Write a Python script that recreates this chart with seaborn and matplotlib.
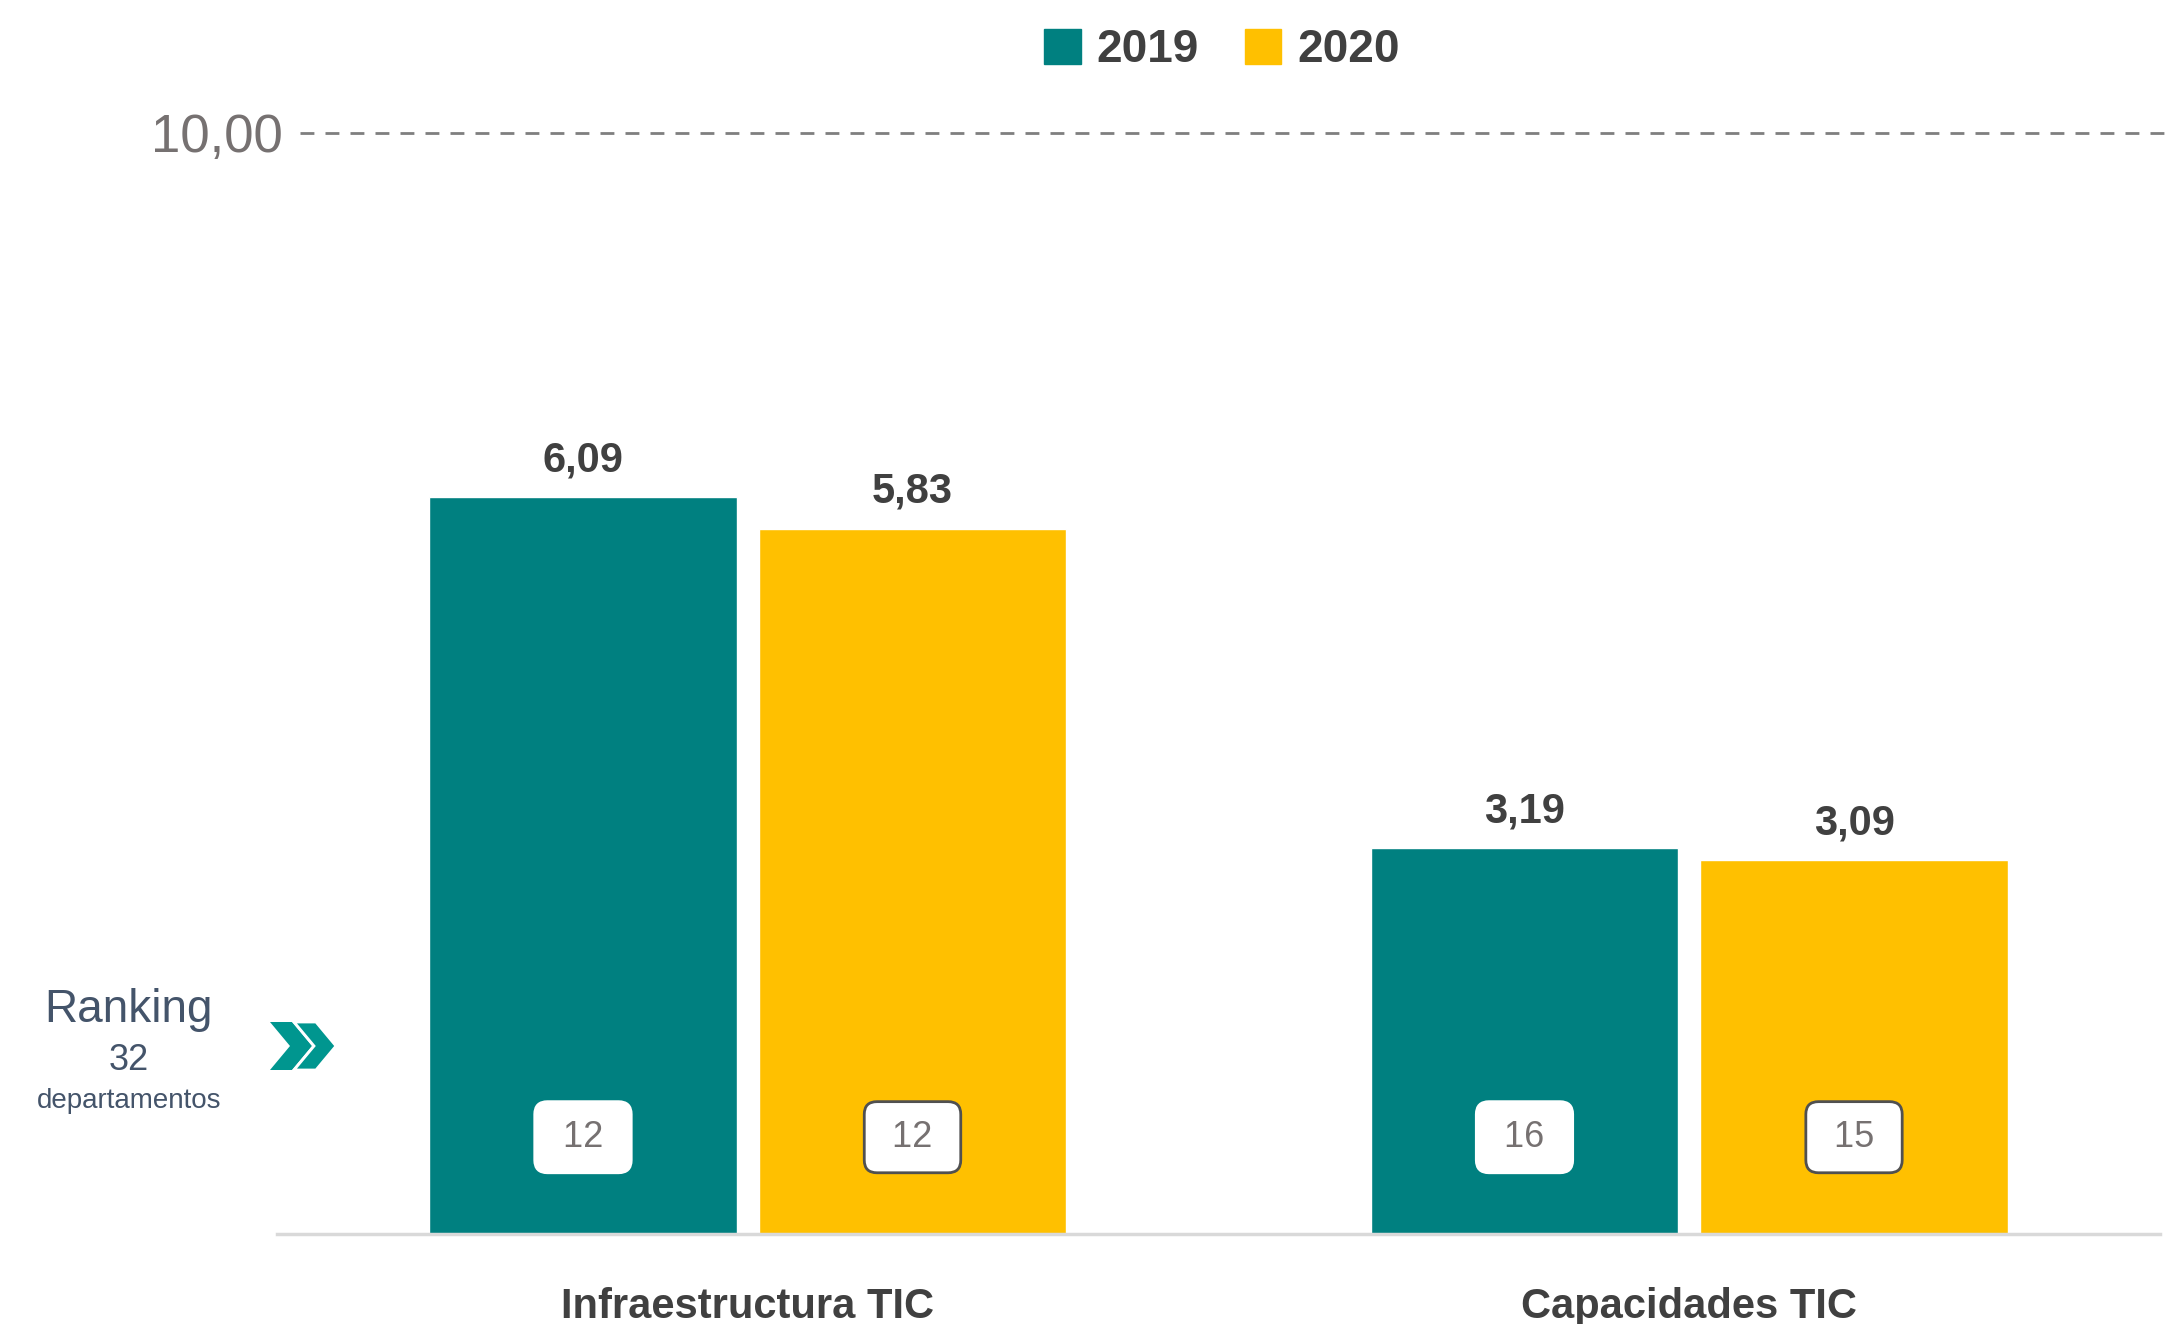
import matplotlib
matplotlib.use("Agg")
import matplotlib.pyplot as plt
import matplotlib.font_manager as fm
from matplotlib.patches import Polygon
import seaborn as sns
import pandas as pd

categories = ["Infraestructura TIC", "Capacidades TIC"]
years = ["2019", "2020"]
values_2019 = [6.09, 3.19]
values_2020 = [5.83, 3.09]
rank_2019 = [12, 16]
rank_2020 = [12, 15]
ref_label = "10,00"

df = pd.DataFrame({
    "categoria": categories * 2,
    "anio": [years[0]] * 2 + [years[1]] * 2,
    "valor": values_2019 + values_2020,
})

sns.set_theme(style="white")
names = {f.name for f in fm.fontManager.ttflist}
narrow = "Liberation Sans Narrow" if "Liberation Sans Narrow" in names else "Liberation Sans"
plt.rcParams["font.family"] = ["Liberation Sans", "DejaVu Sans"]

fig = plt.figure(figsize=(21.71, 13.24), dpi=100)
ax = fig.add_axes([277 / 2171, 1 - 1234 / 1324, (2160 - 277) / 2171, (1234 - 133) / 1324])

palette = {"2019": "#008080", "2020": "#FFC000"}
sns.barplot(data=df, x="categoria", y="valor", hue="anio", order=categories,
            hue_order=years, palette=palette, width=0.70, gap=0.067,
            saturation=1, legend=False, ax=ax)

ax.set_xlim(-0.5, 1.5)
ax.set_ylim(0, 9.1)
ax.set_xlabel("")
ax.set_ylabel("")
ax.set_yticks([])
for s in ["top", "right", "left"]:
    ax.spines[s].set_visible(False)
ax.spines["bottom"].set_color("#d9d9d9")
ax.spines["bottom"].set_linewidth(2.5)
ax.tick_params(axis="x", length=0, pad=38)
ax.set_xticks(range(len(categories)))
ax.set_xticklabels(categories, fontsize=30, fontweight="bold", color="#404040",
                   family=[narrow, "DejaVu Sans"])

# reference dashed line at the top
ax.plot([0.012, 1.006], [1, 1], transform=ax.transAxes, clip_on=False,
        color="#7f7f7f", lw=2, linestyle=(0, (5, 4)))
fig.text(283 / 2171, 1 - 138 / 1324, ref_label, ha="right", va="center",
         fontsize=38, color="#767171")

ranks = [rank_2019, rank_2020]
edges = ["white", "#505050"]
for ci, cont in enumerate(ax.containers):
    for bi, bar in enumerate(cont):
        cx = bar.get_x() + bar.get_width() / 2
        h = bar.get_height()
        ax.annotate(f"{h:.2f}".replace(".", ","), (cx, h), xytext=(0, 17),
                    textcoords="offset pixels", ha="center", va="bottom",
                    fontsize=30, fontweight="bold", color="#404040",
                    family=[narrow, "DejaVu Sans"])
        ax.text(cx, 0.80, f" {ranks[ci][bi]} ", ha="center", va="center",
                fontsize=26, color="#767171", family=[narrow, "DejaVu Sans"],
                bbox=dict(boxstyle="round,pad=0.5,rounding_size=0.35",
                          fc="white", ec=edges[ci], lw=2))

# legend
handles = [plt.Rectangle((0, 0), 1, 1, color=palette[y]) for y in years]
fig.legend(handles, years, loc="center", bbox_to_anchor=(1222 / 2171, 1 - 50 / 1324),
           ncol=2, frameon=False, handlelength=0.8, handleheight=0.8,
           handletextpad=0.35, columnspacing=1.0,
           prop=dict(size=33, weight="bold", family=["Liberation Sans", "DejaVu Sans"]),
           labelcolor="#404040")

# ranking annotation
fig.text(129 / 2171, 1 - 1010 / 1324, "Ranking", ha="center", va="center",
         fontsize=33, color="#44546a", family=[narrow, "DejaVu Sans"])
fig.text(129 / 2171, 1 - 1060 / 1324, "32", ha="center", va="center",
         fontsize=26, color="#44546a", family=[narrow, "DejaVu Sans"])
fig.text(129 / 2171, 1 - 1101 / 1324, "departamentos", ha="center", va="center",
         fontsize=20, color="#44546a", family=[narrow, "DejaVu Sans"])

def chevron(x0, ec):
    W, H = 2171, 1324
    pts = [(x0, 1022), (x0 + 22, 1022), (x0 + 42, 1046), (x0 + 22, 1070),
           (x0, 1070), (x0 + 20, 1046)]
    return Polygon([(x / W, 1 - y / H) for x, y in pts], closed=True,
                   transform=fig.transFigure, fc="#00968f", ec=ec, lw=2)

fig.patches.append(chevron(270, "none"))
fig.patches.append(chevron(294, "white"))

fig.savefig("out.png", dpi=100, facecolor="white")
